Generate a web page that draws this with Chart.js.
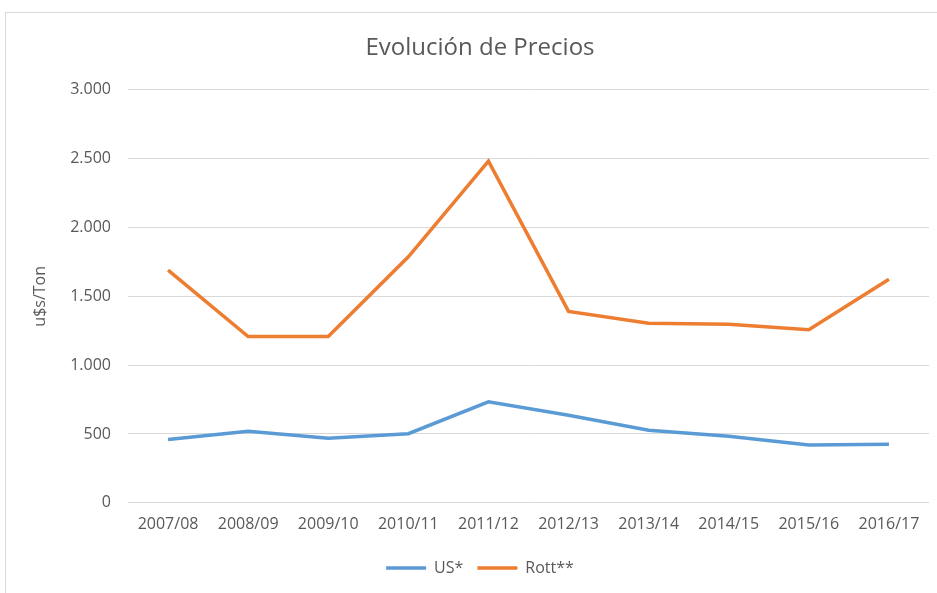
<!DOCTYPE html>
<html>
<head>
<meta charset="utf-8">
<script src="https://cdn.jsdelivr.net/npm/chart.js@4/dist/chart.umd.min.js"></script>
<style>
    body { margin: 0; background: #fff; }
    #frame {
        position: absolute; left: 5px; top: 12px;
        width: 932px; height: 581px;
        border-left: 1px solid #d9d9d9; border-top: 1px solid #d9d9d9;
    }
</style>
</head>
<body>
<div id="frame"><canvas id="precios"></canvas></div>
<script>
const TEXTCOLOR = "#595959";
const FONT = "'Open Sans', sans-serif";

// campañas
var campaigns = ["2007/08", "2008/09", "2009/10", "2010/11", "2011/12",
                 "2012/13", "2013/14", "2014/15", "2015/16", "2016/17"];
// u$s/Ton
var usValues = [460, 520, 469, 502, 734, 636, 527, 484, 420, 425];
var rottValues = [1690, 1208, 1208, 1787, 2482, 1390, 1304, 1297, 1257, 1624];
var yTicks = [0, 500, 1000, 1500, 2000, 2500, 3000];

var preciosChart;

window.onload = function () {
    initChart();
}

function formatNumber(v) {
    return String(v).replace(/\B(?=(\d{3})+(?!\d))/g, ".");
}

function initChart() {
    var ctx = document.getElementById('precios');
    preciosChart = new Chart(ctx, {
        type: 'line',
        data: {
            labels: campaigns,
            datasets: [{
                label: "US*",
                data: usValues,
                borderColor: "#5b9bd5",
                backgroundColor: "#5b9bd5",
                borderWidth: 3.5,
                pointRadius: 0,
                fill: false
            }, {
                label: "Rott**",
                data: rottValues,
                borderColor: "#ed7d31",
                backgroundColor: "#ed7d31",
                borderWidth: 3.5,
                pointRadius: 0,
                fill: false
            }]
        },
        options: {
            responsive: true,
            maintainAspectRatio: false,
            animation: false,
            layout: { padding: { left: 25, right: 9, top: 21, bottom: 8 } },
            plugins: {
                title: {
                    display: true,
                    text: "Evolución de Precios",
                    color: TEXTCOLOR,
                    font: { family: FONT, size: 24, weight: 'normal' },
                    padding: { top: 0, bottom: 27 }
                },
                legend: {
                    position: 'bottom',
                    labels: {
                        usePointStyle: true,
                        pointStyle: 'line',
                        pointStyleWidth: 40,
                        color: TEXTCOLOR,
                        font: { family: FONT, size: 16 },
                        padding: 14
                    }
                },
                tooltip: { enabled: false }
            },
            scales: {
                x: {
                    offset: true,
                    grid: { display: false, drawTicks: false },
                    border: { display: false },
                    ticks: {
                        color: TEXTCOLOR,
                        font: { family: FONT, size: 16 },
                        padding: 12,
                        maxRotation: 0
                    }
                },
                y: {
                    min: 0,
                    max: 3000,
                    afterBuildTicks: function (axis) {
                        axis.ticks = yTicks.map(v => ({ value: v }));
                    },
                    afterFit: function (axis) {
                        axis.width = 97;
                    },
                    grid: { color: "#d9d9d9", drawTicks: false },
                    border: { display: false },
                    ticks: {
                        color: TEXTCOLOR,
                        font: { family: FONT, size: 16 },
                        padding: 17,
                        callback: function (v) { return formatNumber(v); }
                    },
                    title: {
                        display: true,
                        text: "u$s/Ton",
                        color: TEXTCOLOR,
                        font: { family: FONT, size: 16 },
                        padding: { top: 0, bottom: 0 }
                    }
                }
            }
        }
    });
}
</script>
</body>
</html>
